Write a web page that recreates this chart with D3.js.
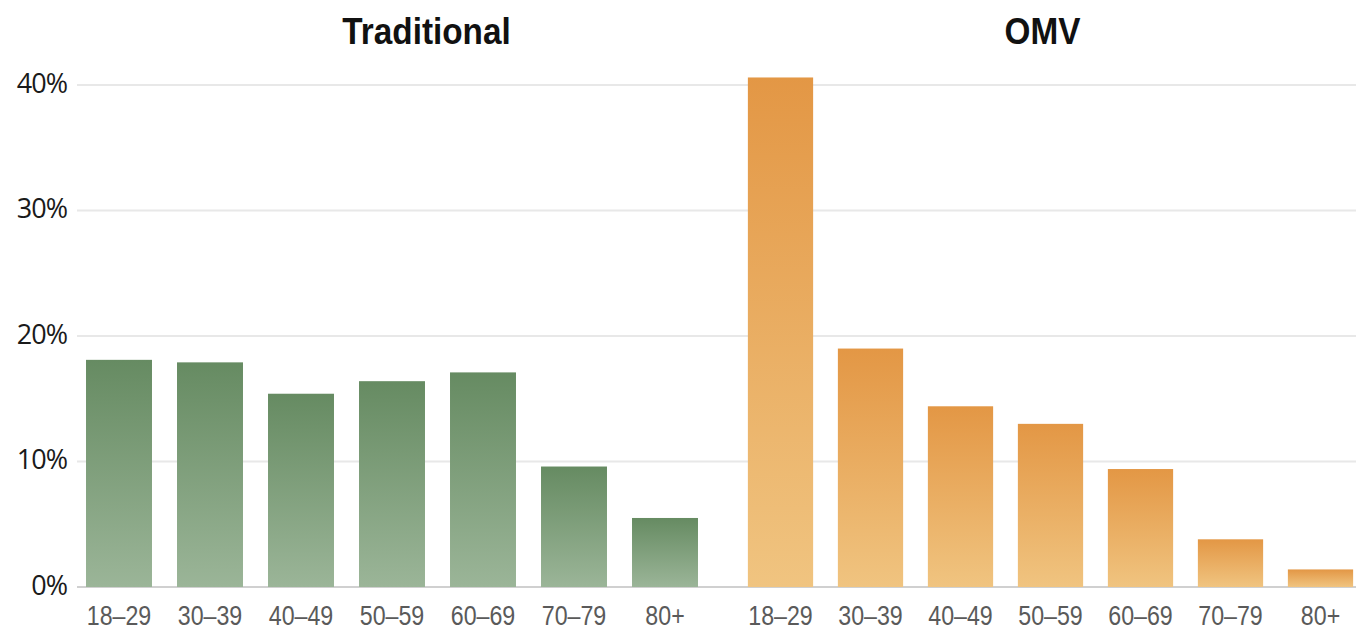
<!DOCTYPE html>
<html><head><meta charset="utf-8">
<script src="https://cdn.jsdelivr.net/npm/d3@7"></script>
<style>
body{margin:0;background:#fff;}
svg{display:block;}
</style></head>
<body>
<svg id="chart" width="1356" height="632"></svg>
<script>
const categories = ["18–29","30–39","40–49","50–59","60–69","70–79","80+"];
const traditionalValues = [18.1, 17.9, 15.4, 16.4, 17.1, 9.6, 5.5];
const omvValues = [40.6, 19.0, 14.4, 13.0, 9.4, 3.8, 1.4];
const yTicks = [0, 10, 20, 30, 40];
const panelTitles = ["Traditional", "OMV"];

const svg = d3.select("#chart");
const y = d3.scaleLinear().domain([0, 40]).range([587, 85]);

const defs = svg.append("defs");
function grad(id, top, bottom){
  const g = defs.append("linearGradient").attr("id", id)
    .attr("x1",0).attr("y1",0).attr("x2",0).attr("y2",1);
  g.append("stop").attr("offset","0%").attr("stop-color",top);
  g.append("stop").attr("offset","100%").attr("stop-color",bottom);
}
grad("gGreen", "#668b62", "#9bb598");
grad("gOrange", "#e39745", "#f0c480");

// gridlines
svg.append("g").selectAll("line").data(yTicks).join("line")
  .attr("x1", 77).attr("x2", 1356)
  .attr("y1", d => y(d)).attr("y2", d => y(d))
  .attr("stroke", d => d === 0 ? "#d0d0d0" : "#e8e8e8")
  .attr("stroke-width", 2);

// y axis labels
const yAxis = d3.axisLeft(y).tickValues(yTicks).tickFormat(d => d + "%").tickSize(0).tickPadding(0);
const yg = svg.append("g").attr("transform", "translate(67,-2)").call(yAxis);
yg.select(".domain").remove();
yg.selectAll("text").attr("font-family", "Open Sans, sans-serif").attr("font-size", 27)
  .attr("fill", "#1a1a1a").attr("dy", "0.35em").attr("letter-spacing", -1);

const panels = [
  {title: panelTitles[0], values: traditionalValues, range: [73.5, 710.5], fill: "url(#gGreen)", titleShift: 34.5},
  {title: panelTitles[1], values: omvValues, range: [735.5, 1365.5], fill: "url(#gOrange)", titleShift: -8}
];

panels.forEach(p => {
  const x = d3.scaleBand().domain(categories).range(p.range).paddingInner(0.275).paddingOuter(0.1375);
  const g = svg.append("g");
  g.selectAll("rect").data(categories).join("rect")
    .attr("x", d => x(d)).attr("width", x.bandwidth())
    .attr("y", (d, i) => y(p.values[i]))
    .attr("height", (d, i) => y(0) - y(p.values[i]))
    .attr("fill", p.fill);
  const xAxis = d3.axisBottom(x).tickSize(0).tickPadding(0);
  const xg = svg.append("g").attr("transform", "translate(0,625)").call(xAxis);
  xg.select(".domain").remove();
  xg.selectAll("text").attr("font-family", "Liberation Sans, Arial, sans-serif")
    .attr("font-size", 27).attr("fill", "#5a5a5a").attr("dy", "0").attr("y", 0)
    .attr("transform", "scale(0.86,1)");
  const cx = (x(categories[0]) + x(categories[categories.length-1]) + x.bandwidth()) / 2 + p.titleShift;
  svg.append("g").attr("transform", `translate(${cx},44)`)
    .append("text").attr("text-anchor", "middle").attr("transform", "scale(0.9,1)")
    .attr("font-family", "Liberation Sans, Arial, sans-serif").attr("font-weight", 700)
    .attr("font-size", 37).attr("fill", "#111").text(p.title);
});
</script>
</body></html>
